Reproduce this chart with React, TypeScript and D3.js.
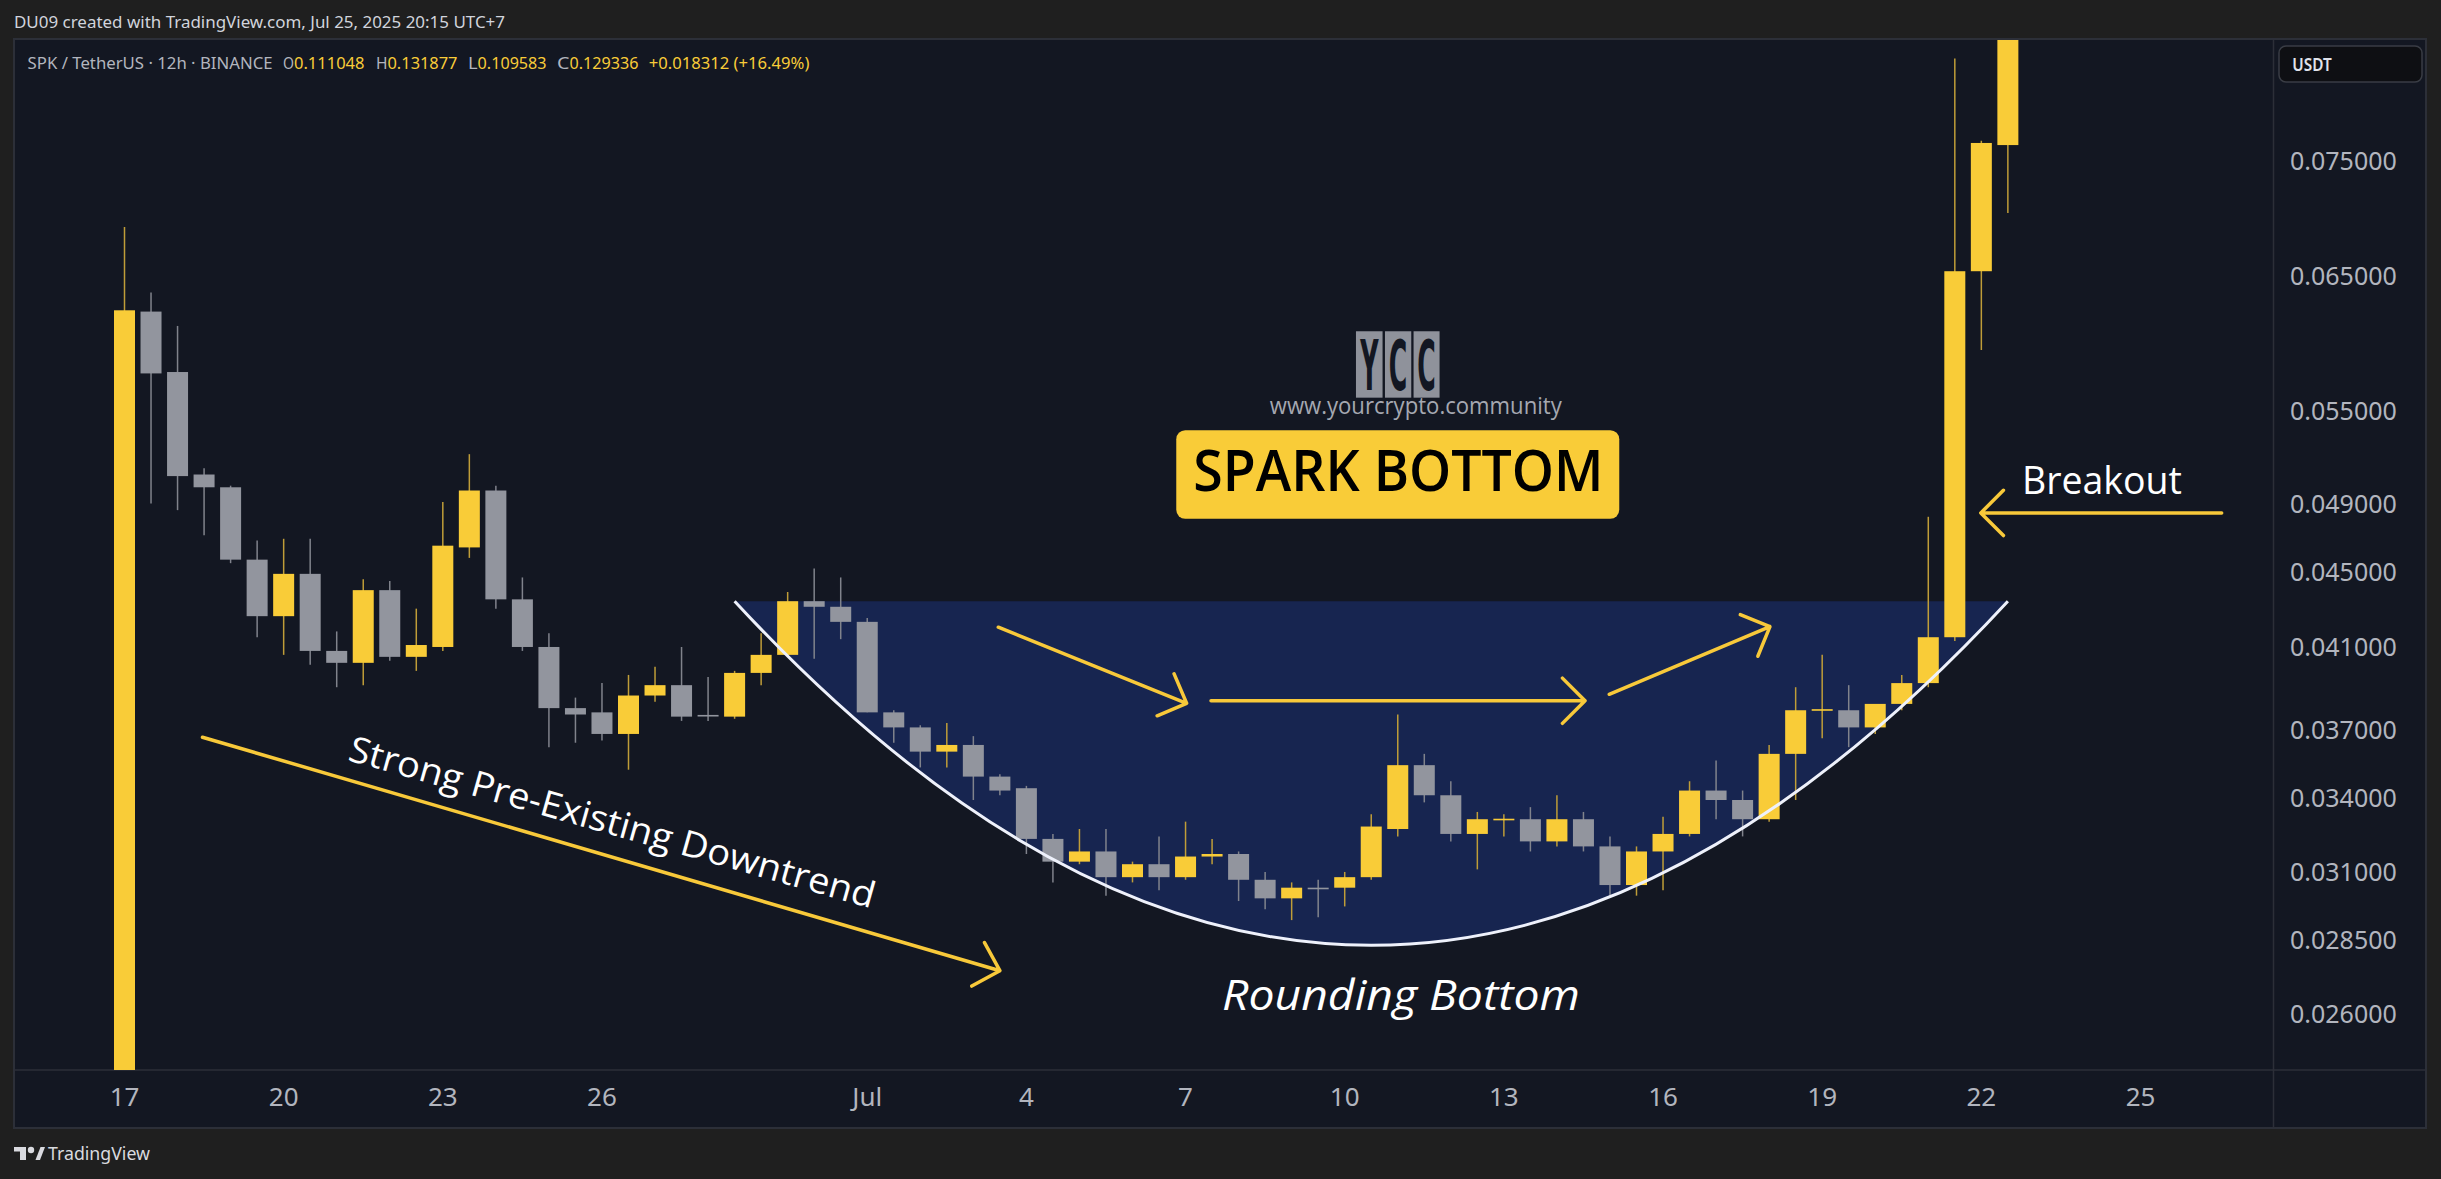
import React, { useEffect } from "react";
import * as d3 from "d3";

// ---------- DATA (12h candles from Jun 17, 2025) ----------
const opens = [
  0.015, 0.0622, 0.0577, 0.0508, 0.05, 0.0457, 0.0426, 0.0449, 0.0408, 0.0402,
  0.044, 0.0405, 0.041, 0.0464, 0.0498, 0.0435, 0.041, 0.038, 0.0378, 0.0368,
  0.0386, 0.0391, 0.03768, 0.0376, 0.0397, 0.0406, 0.0434, 0.0431, 0.0423, 0.0378,
  0.0371, 0.036, 0.0363, 0.0349, 0.0344, 0.0323, 0.0314, 0.0318, 0.0308, 0.0313,
  0.0308, 0.0316, 0.0317, 0.0307, 0.03, 0.0304, 0.0304, 0.0308, 0.0327, 0.0354,
  0.0341, 0.0325, 0.0331, 0.0331, 0.0322, 0.0331, 0.032, 0.0305, 0.0318, 0.0325,
  0.0343, 0.0339, 0.0331, 0.0359, 0.0379, 0.0379, 0.0371, 0.0382, 0.0392, 0.0415,
  0.0654, 0.0765,
];
const highs = [
  0.0691, 0.0637, 0.0611, 0.0512, 0.0501, 0.0468, 0.0469, 0.0469, 0.0418, 0.0446,
  0.0445, 0.043, 0.0491, 0.0521, 0.0501, 0.0447, 0.0417, 0.0385, 0.0392, 0.0396,
  0.04, 0.041, 0.0395, 0.0398, 0.0417, 0.0439, 0.0452, 0.0447, 0.0425, 0.0379,
  0.0372, 0.0373, 0.0367, 0.035, 0.0345, 0.0325, 0.0327, 0.0327, 0.0314, 0.0324,
  0.033, 0.0323, 0.0318, 0.031, 0.0306, 0.0307, 0.031, 0.0333, 0.0377, 0.0359,
  0.0347, 0.0334, 0.0333, 0.0336, 0.0341, 0.0334, 0.0324, 0.032, 0.0332, 0.0347,
  0.0356, 0.0343, 0.0363, 0.039, 0.0406, 0.0391, 0.0382, 0.0396, 0.0482, 0.0852,
  0.0769, 0.11,
];
const lows = [
  0.015, 0.049, 0.0486, 0.0471, 0.0455, 0.0415, 0.0406, 0.0401, 0.039, 0.0391,
  0.0403, 0.0398, 0.0408, 0.0458, 0.043, 0.0408, 0.0362, 0.0364, 0.0365, 0.0352,
  0.0383, 0.0374, 0.0374, 0.0375, 0.0391, 0.0405, 0.0404, 0.0414, 0.0378, 0.0364,
  0.0353, 0.0353, 0.0339, 0.0341, 0.0317, 0.0306, 0.0313, 0.0301, 0.0306, 0.0303,
  0.0307, 0.0313, 0.0299, 0.0296, 0.0292, 0.0293, 0.0297, 0.0307, 0.0324, 0.0338,
  0.0322, 0.0311, 0.0324, 0.0318, 0.032, 0.0318, 0.0301, 0.0301, 0.0303, 0.0324,
  0.0331, 0.0324, 0.033, 0.0339, 0.0366, 0.0362, 0.0368, 0.0379, 0.039, 0.0413,
  0.0593, 0.0703,
];
const closes = [
  0.0623, 0.0576, 0.0507, 0.05, 0.0457, 0.0426, 0.0449, 0.0408, 0.0402, 0.044,
  0.0405, 0.0411, 0.0465, 0.0498, 0.0435, 0.041, 0.038, 0.0377, 0.0368, 0.0386,
  0.0391, 0.0376, 0.03762, 0.0397, 0.0406, 0.0434, 0.0431, 0.0423, 0.0378, 0.0371,
  0.036, 0.0363, 0.0349, 0.0343, 0.0323, 0.0314, 0.0318, 0.0308, 0.0313, 0.0308,
  0.0316, 0.0317, 0.0307, 0.03, 0.0304, 0.03036, 0.0308, 0.0328, 0.0354, 0.0341,
  0.0325, 0.0331, 0.03312, 0.0322, 0.0331, 0.032, 0.0305, 0.0318, 0.0325, 0.0343,
  0.0339, 0.0331, 0.0359, 0.0379, 0.03795, 0.0371, 0.0382, 0.0392, 0.0415, 0.0654,
  0.0767, 0.105,
];

const timeTickIndex = [0, 6, 12, 18, 28, 34, 40, 46, 52, 58, 64, 70, 76];
const timeTickLabels = ["17", "20", "23", "26", "Jul", "4", "7", "10", "13", "16", "19", "22", "25"];
const priceTicks = [0.075, 0.065, 0.055, 0.049, 0.045, 0.041, 0.037, 0.034, 0.031, 0.0285, 0.026];

// annotation anchors: [candle index, price]
const arcStart = [23, 0.0434];
const arcBottom = [47, 0.0283];
const arcEnd = [71, 0.0434];
const arrowFrom = [[2.94, 0.03665], [32.94, 0.04202], [40.96, 0.03835], [55.97, 0.03866], [79.06, 0.04843]];
const arrowTo = [[33.0, 0.02742], [40.04, 0.03823], [55.06, 0.03835], [62.03, 0.04205], [69.98, 0.04843]];
const downtrendAnchor = [8.38, 0.03563];
const breakoutAnchor = [71.53, 0.04961];
const roundingAnchor = [48.12, 0.0261];
const titleAnchor = [48.0, 0.0508];
const watermarkAnchor = [48.0, 0.05589];

const legendHeader = "DU09 created with TradingView.com, Jul 25, 2025 20:15 UTC+7";
const legendSymbol = "SPK / TetherUS · 12h · BINANCE";
const legendKeys = ["O", "H", "L", "C"];
const legendValues = ["0.111048", "0.131877", "0.109583", "0.129336"];
const legendChange = "+0.018312 (+16.49%)";

// ---------- STYLE ----------
const W = 2441;
const H = 1179;
const PANE = { l: 14, t: 39, r: 2273.5, b: 1070 };
const FRAME = { r: 2426, b: 1128 };
const BG_OUT = "#1f1f1f";
const BG = "#131722";
const BORDER = "#2c2f38";
const UP = "#f9cc38";
const DN = "#92959e";
const WICK_UP = "#bf9d38";
const WICK_DN = "#80838c";
const AXIS_TXT = "#b2b5be";
const ARROW = "#f8c93a";
const FONT = "'Noto Sans', 'Open Sans', sans-serif";
const AFONT = "'Open Sans', 'Noto Sans', sans-serif";

export default function App() {
  useEffect(() => {
    document.body.style.margin = "0";
    document.body.style.overflow = "hidden";
    document.body.style.background = BG_OUT;
  }, []);

  const x = d3.scaleLinear().domain([0, 76]).range([124.5, 2140.5]);
  const y = d3.scaleLog().domain([0.026, 0.075]).range([1013.5, 161]);
  const pt = (a: number[]) => [x(a[0]), y(a[1])];
  const fmt = d3.format(".6f");

  // arc (quadratic through bottom point)
  const p0 = pt(arcStart);
  const pb = pt(arcBottom);
  const p2 = pt(arcEnd);
  const cx = 2 * pb[0] - (p0[0] + p2[0]) / 2;
  const cy = 2 * pb[1] - (p0[1] + p2[1]) / 2;
  const arcPath = d3.path();
  arcPath.moveTo(p0[0], p0[1]);
  arcPath.quadraticCurveTo(cx, cy, p2[0], p2[1]);
  const arcD = arcPath.toString();
  const fillD = arcD + "Z";

  const arrowPaths = arrowFrom.map((f, k) => {
    const a = pt(f);
    const b = pt(arrowTo[k]);
    const th = Math.atan2(a[1] - b[1], a[0] - b[0]);
    const L = 32;
    const w1 = [b[0] + L * Math.cos(th + Math.PI / 4), b[1] + L * Math.sin(th + Math.PI / 4)];
    const w2 = [b[0] + L * Math.cos(th - Math.PI / 4), b[1] + L * Math.sin(th - Math.PI / 4)];
    const p = d3.path();
    p.moveTo(a[0], a[1]);
    p.lineTo(b[0], b[1]);
    p.moveTo(w1[0], w1[1]);
    p.lineTo(b[0], b[1]);
    p.lineTo(w2[0], w2[1]);
    return p.toString();
  });

  const BODY_W = 21;
  const dt = pt(downtrendAnchor);
  const bo = pt(breakoutAnchor);
  const rb = pt(roundingAnchor);
  const tt = pt(titleAnchor);
  const wm = pt(watermarkAnchor);

  // legend layout (x start, width) for key / value pairs
  const keyX = [283, 376, 468, 557];
  const keyW = [11, 11.5, 9.6, 12.5];
  const valX = [294, 387.5, 477.6, 569.5];
  const valW = [70.5, 70, 69, 69];

  const logoBoxes = [
    [-41.8, 26.6],
    [-12.8, 26.3],
    [15.8, 26.0],
  ];
  const logoLetters = ["Y", "C", "C"];

  return (
    <svg width={W} height={H} style={{ display: "block", position: "absolute", left: 0, top: 0 }}>
      <defs>
        <clipPath id="pane">
          <rect x={PANE.l + 1} y={PANE.t + 1} width={PANE.r - PANE.l - 1} height={PANE.b - PANE.t - 1} />
        </clipPath>
      </defs>
      <rect x={0} y={0} width={W} height={H} fill={BG_OUT} />
      <text x={14} y={28.3} fill="#d1d4dc" fontFamily={FONT} fontSize={15.5} textLength={491} lengthAdjust="spacingAndGlyphs">
        {legendHeader}
      </text>

      {/* frame */}
      <rect x={PANE.l} y={PANE.t} width={FRAME.r - PANE.l} height={FRAME.b - PANE.t} fill={BG} stroke={BORDER} strokeWidth={2} />
      <line x1={PANE.r} x2={PANE.r} y1={PANE.t} y2={FRAME.b} stroke={BORDER} strokeWidth={1.5} />
      <line x1={PANE.l} x2={FRAME.r} y1={PANE.b} y2={PANE.b} stroke={BORDER} strokeWidth={1.5} />

      <g clipPath="url(#pane)">
        <path d={fillD} fill="#172550" />
        {closes.map((c, i) => {
          const o = opens[i];
          const up = c >= o;
          const xc = x(i);
          const top = y(Math.max(o, c));
          const bot = y(Math.min(o, c));
          return (
            <g key={i}>
              <line x1={xc} x2={xc} y1={y(highs[i])} y2={y(lows[i])} stroke={up ? WICK_UP : WICK_DN} strokeWidth={1.5} />
              <rect x={xc - BODY_W / 2} y={top} width={BODY_W} height={Math.max(bot - top, 1.6)} fill={up ? UP : DN} />
            </g>
          );
        })}
        <path d={arcD} fill="none" stroke="#eef1fb" strokeWidth={3} />
        {arrowPaths.map((d, k) => (
          <path key={k} d={d} fill="none" stroke={ARROW} strokeWidth={3.5} strokeLinecap="round" strokeLinejoin="round" />
        ))}

        {/* watermark */}
        {logoBoxes.map((b, k) => (
          <g key={k}>
            <rect x={wm[0] + b[0]} y={wm[1] - 66.4} width={b[1]} height={66.4} fill="#8f929b" />
            <text
              transform={`translate(${wm[0] + b[0] + b[1] / 2},${wm[1] - 7.5}) scale(1,2.5)`}
              textAnchor="middle"
              fill={BG}
              fontFamily="'DejaVu Sans Condensed', 'DejaVu Sans', sans-serif"
              fontWeight="bold"
              fontSize={28}
            >
              {logoLetters[k]}
            </text>
          </g>
        ))}
        <text x={wm[0] + 18} y={wm[1] + 16.6} textAnchor="middle" fill="#a5a8b1" fontFamily={AFONT} fontSize={24} textLength={292} lengthAdjust="spacingAndGlyphs">
          www.yourcrypto.community
        </text>

        {/* title box */}
        <rect x={tt[0] - 221.5} y={tt[1] - 44.3} width={443} height={88.6} rx={9} fill={UP} />
        <text x={tt[0] + 0.6} y={tt[1] + 16.7} textAnchor="middle" fill="#000" fontFamily={AFONT} fontWeight={600} fontSize={58} textLength={410} lengthAdjust="spacingAndGlyphs">
          SPARK BOTTOM
        </text>

        <text transform={`translate(${dt[0]},${dt[1]}) rotate(15.8)`} fill="#ffffff" fontFamily={AFONT} fontSize={36} textLength={545} lengthAdjust="spacingAndGlyphs">
          Strong Pre-Existing Downtrend
        </text>
        <text x={bo[0]} y={bo[1]} fill="#ffffff" fontFamily={AFONT} fontSize={38} textLength={160} lengthAdjust="spacingAndGlyphs">
          Breakout
        </text>
        <text x={rb[0]} y={rb[1]} textAnchor="middle" fill="#ffffff" fontFamily={AFONT} fontStyle="italic" fontSize={42} textLength={358} lengthAdjust="spacingAndGlyphs">
          Rounding Bottom
        </text>
      </g>

      {/* legend */}
      <text x={27.6} y={68.5} fill={AXIS_TXT} fontFamily={FONT} fontSize={16.5} textLength={245} lengthAdjust="spacingAndGlyphs">
        {legendSymbol}
      </text>
      {legendKeys.map((k, i) => (
        <React.Fragment key={k}>
          <text x={keyX[i]} y={68.5} fill={AXIS_TXT} fontFamily={FONT} fontSize={16.5} textLength={keyW[i]} lengthAdjust="spacingAndGlyphs">
            {k}
          </text>
          <text x={valX[i]} y={68.5} fill={UP} fontFamily={FONT} fontSize={16.5} textLength={valW[i]} lengthAdjust="spacingAndGlyphs">
            {legendValues[i]}
          </text>
        </React.Fragment>
      ))}
      <text x={648.7} y={68.5} fill={UP} fontFamily={FONT} fontSize={16.5} textLength={160.7} lengthAdjust="spacingAndGlyphs">
        {legendChange}
      </text>

      {/* price axis */}
      <rect x={2279} y={46} width={143} height={36} rx={7} fill="#0e0f13" stroke="#3a3d45" strokeWidth={1.5} />
      <text x={2292.3} y={70.8} fill="#e0e3eb" fontFamily={FONT} fontWeight={600} fontSize={18} textLength={39.4} lengthAdjust="spacingAndGlyphs">
        USDT
      </text>
      {priceTicks.map((t) => (
        <text key={t} x={2290} y={y(t) + 9} fill={AXIS_TXT} fontFamily={FONT} fontSize={25}>
          {fmt(t)}
        </text>
      ))}

      {/* time axis */}
      {timeTickIndex.map((ti, k) => (
        <text key={ti} x={x(ti)} y={1106} textAnchor="middle" fill={AXIS_TXT} fontFamily={FONT} fontSize={26}>
          {timeTickLabels[k]}
        </text>
      ))}

      {/* TradingView logo */}
      <g fill="#d9dadf">
        <rect x={14} y={1147} width={12} height={4.5} />
        <rect x={20} y={1147} width={6} height={13} />
        <circle cx={31} cy={1150} r={3.2} />
        <path d="M35.5,1160 L40.5,1147 L45,1147 L40,1160 Z" />
      </g>
      <text x={48} y={1160} fill="#d9dadf" fontFamily={FONT} fontSize={18.5} textLength={102} lengthAdjust="spacingAndGlyphs">
        TradingView
      </text>
    </svg>
  );
}
